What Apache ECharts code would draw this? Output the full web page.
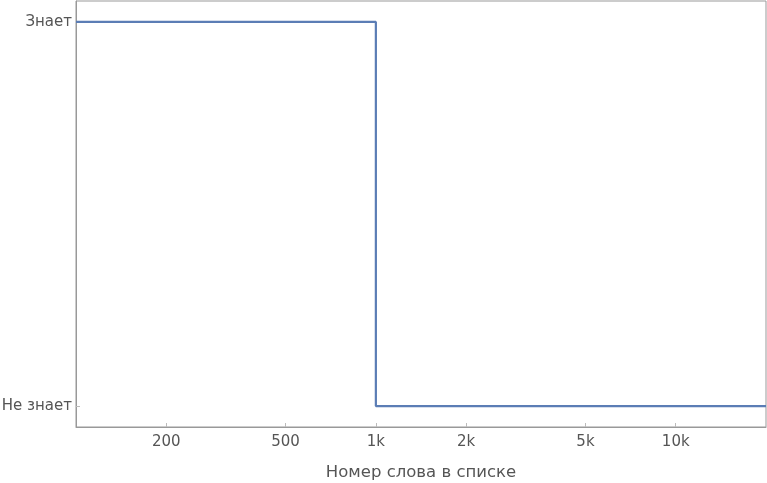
<!DOCTYPE html>
<html>
<head>
<meta charset="utf-8">
<script src="https://cdn.jsdelivr.net/npm/echarts@6/dist/echarts.min.js"></script>
<style>
  html, body { margin: 0; padding: 0; background: #fff; }
  #chart { width: 767px; height: 483px; }
</style>
</head>
<body>
<div id="chart"></div>
<script>
// word rank in list (log scale) vs. whether the word is known
const wordRank = [100, 1000, 20000]
const knows = [1, 0, 0]
const xTicks = [200, 500, 1000, 2000, 5000, 10000]
const yTicks = [0, 1]
const yNames = ['Не знает', 'Знает']

const chart = echarts.init(document.getElementById('chart'))

const textColor = '#555'
const font = 'DejaVu Sans'

chart.setOption({
  animation: false,
  grid: {
    left: 76,
    right: 1,
    top: 1,
    bottom: 56,
    outerBoundsMode: 'none',
    containLabel: false,
    show: true,
    borderColor: '#999',
    borderWidth: 1
  },
  xAxis: {
    type: 'log',
    min: 100,
    max: 20000,
    name: 'Номер слова в списке',
    nameLocation: 'middle',
    nameGap: 37,
    nameTextStyle: { color: textColor, fontSize: 16.5, fontFamily: font },
    axisLine: { show: true, onZero: false, lineStyle: { color: '#999' } },
    axisTick: { show: true, inside: true, length: 4, lineStyle: { color: '#bbb' }, customValues: xTicks },
    axisLabel: {
      color: textColor, fontSize: 15, fontFamily: font, margin: 8,
      customValues: xTicks,
      formatter: v => v >= 1000 ? (v / 1000) + 'k' : String(v)
    },
    splitLine: { show: false },
    minorTick: { show: false }
  },
  yAxis: {
    type: 'value',
    min: -0.0545,
    max: 1.0545,
    axisLine: { show: true, onZero: false, lineStyle: { color: '#999' } },
    axisTick: { show: true, inside: true, length: 4, lineStyle: { color: '#bbb' }, customValues: yTicks },
    axisLabel: {
      color: textColor, fontSize: 15, fontFamily: font, margin: 4,
      customValues: yTicks,
      formatter: v => yNames[Math.round(v)]
    },
    splitLine: { show: false }
  },
  series: [{
    type: 'line',
    step: 'end',
    data: wordRank.map((x, i) => [x, knows[i]]),
    symbol: 'none',
    lineStyle: { color: '#5b7db5', width: 2.2 }
  }]
})
</script>
</body>
</html>
